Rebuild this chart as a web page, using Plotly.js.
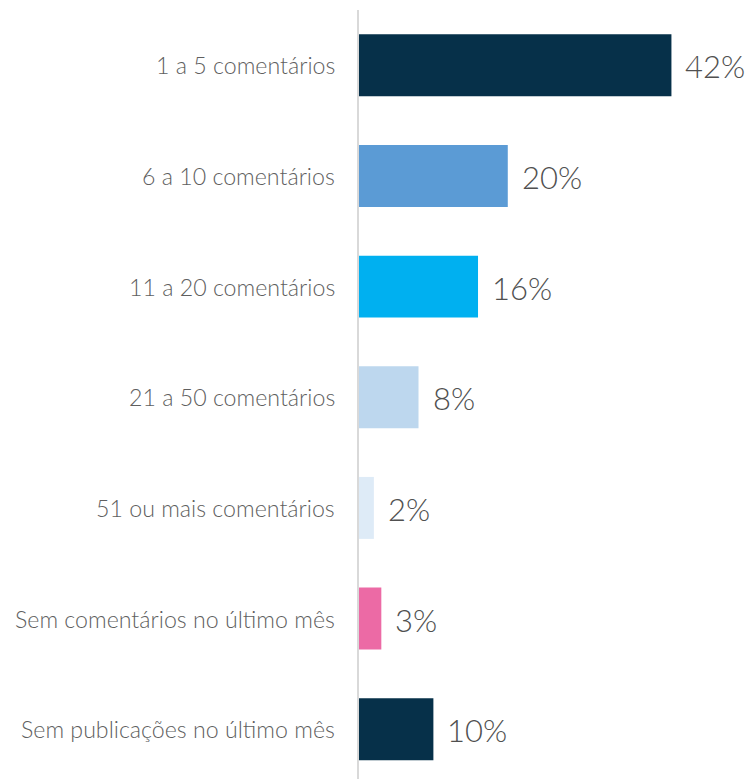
<!DOCTYPE html>
<html>
<head>
<meta charset="utf-8">
<script src="https://cdn.plot.ly/plotly-3.0.1.min.js"></script>
<style>html,body{margin:0;padding:0;overflow:hidden;background:#fff}</style>
</head>
<body>
<div id="chart" style="width:754px;height:779px"></div>
<script>
const categories = ["1 a 5 comentários","6 a 10 comentários","11 a 20 comentários","21 a 50 comentários","51 ou mais comentários","Sem comentários no último mês","Sem publicações no último mês"];
const values = [42, 20, 16, 8, 2, 3, 10];
const labels = ["42%","20%","16%","8%","2%","3%","10%"];
const colors = ["#063049","#5b9bd5","#00b0f0","#bdd7ee","#deebf7","#ec6aa5","#063049"];

const trace = {
  type: "bar",
  orientation: "h",
  y: categories,
  x: values,
  width: 0.56,
  marker: {color: colors},
  hoverinfo: "none"
};

const valueAnnotations = categories.map((c, i) => ({
  x: values[i], y: c, xref: "x", yref: "y",
  text: labels[i], showarrow: false,
  xanchor: "left", yanchor: "middle", xshift: 12, yshift: -1,
  font: {family: "Lato, sans-serif", size: 31, color: "#505050", weight: 300}
}));

const categoryAnnotations = categories.map((c) => ({
  x: 0, y: c, xref: "x", yref: "y",
  text: c, showarrow: false,
  xanchor: "right", yanchor: "middle", xshift: -22, yshift: 0,
  font: {family: "Lato, sans-serif", size: 23.2, color: "#5f5f5f", weight: 300}
}));

const layout = {
  width: 754, height: 779,
  margin: {l: 359, r: 0, t: 10, b: 0},
  paper_bgcolor: "#fff", plot_bgcolor: "#fff",
  showlegend: false,
  bargap: 0.44,
  xaxis: {range: [0, 53.1], visible: false, fixedrange: true},
  yaxis: {
    type: "category",
    range: [6.45, -0.5],
    showline: true, linecolor: "#d9d9d9", linewidth: 2,
    showgrid: false, zeroline: false, ticks: "",
    showticklabels: false
  },
  annotations: valueAnnotations.concat(categoryAnnotations)
};

Plotly.newPlot("chart", [trace], layout, {displayModeBar: false, staticPlot: true});
</script>
</body>
</html>
